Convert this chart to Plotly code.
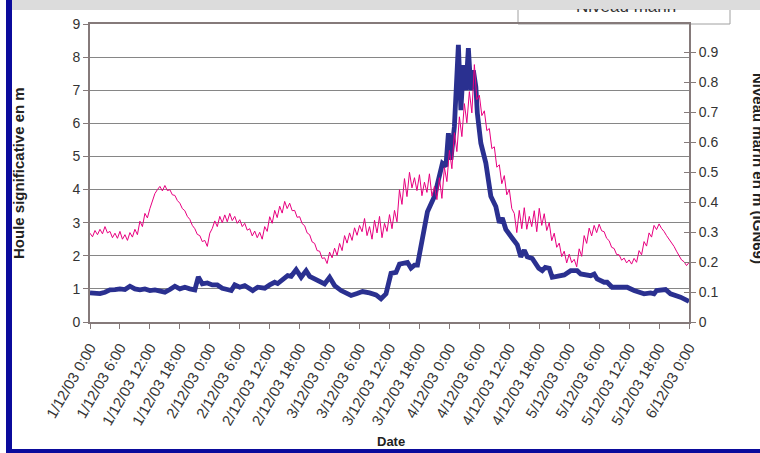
import pandas as pd
import plotly.graph_objects as go

# Significant wave height (m); sample times in hours after 1/12/2003 0:00
hs_hours = [0, 1, 2, 3, 4, 5, 6, 7, 8, 9, 10, 11, 12, 13, 14, 15, 16, 17, 18, 19, 20, 21,
            21.7, 22.5, 23.5, 24.5, 25.5, 26.5, 27.5, 28.3, 29, 30, 31, 32, 32.6, 33.6, 35,
            36, 37, 37.6, 38.6, 39.6, 40.3, 41.3, 42.3, 43.3, 44, 45, 46, 47, 48, 49, 50.3,
            51.3, 52.3, 53.5, 54.6, 56, 57.3, 58.3, 59.3, 60.3, 61.3, 62, 63.6, 64.3, 65,
            65.6, 66.3, 67.6, 69, 70.6, 71.3, 71.8, 72.3, 73, 73.8, 74.3, 74.8, 75.3, 75.8,
            76.3, 76.8, 77.3, 77.6, 78.3, 79.3, 80.3, 81.3, 82, 82.6, 83.3, 84.6, 85.6, 86.3,
            87, 87.6, 88.6, 89.9, 90.6, 91.2, 92, 92.6, 93.6, 95, 96.3, 97.6, 98.3, 100.3,
            101, 101.6, 103, 103.6, 104.6, 106, 107.6, 109, 111, 112.3, 113, 113.5, 114.3,
            115.3, 116.3, 118.3, 120]
hs_values = [0.88, 0.88, 0.86, 0.90, 0.97, 0.98, 1.00, 0.98, 1.08, 1.00, 0.97, 1.00, 0.95,
             0.97, 0.93, 0.90, 0.98, 1.08, 1.00, 1.05, 1.00, 0.97,
             1.36, 1.15, 1.18, 1.12, 1.12, 1.02, 0.98, 0.95, 1.12, 1.05, 1.10, 1.00, 0.95,
             1.05, 1.02, 1.12, 1.20, 1.16, 1.30, 1.40, 1.38, 1.58, 1.35, 1.55, 1.38, 1.30,
             1.20, 1.15, 1.35, 1.10, 0.95, 0.88, 0.80, 0.86, 0.92, 0.88, 0.82, 0.70, 0.85,
             1.47, 1.50, 1.75, 1.80, 1.63, 1.72, 1.72, 2.30, 3.33, 3.79, 4.79, 4.70, 5.70,
             4.90, 5.90, 8.37, 6.40, 7.76, 7.00, 8.27, 7.00, 7.60, 7.10, 6.30, 5.40, 4.80,
             3.80, 3.49, 3.00, 3.14, 2.80, 2.53, 2.33, 1.97, 2.17, 1.97, 1.92, 1.62, 1.55,
             1.65, 1.62, 1.35, 1.37, 1.42, 1.55, 1.55, 1.45, 1.40, 1.45, 1.30, 1.20, 1.20,
             1.05, 1.05, 1.05, 0.95, 0.85, 0.88, 0.85, 0.95, 0.98, 0.98, 0.85, 0.75, 0.62]

# Sea level (m IGN69), one reading every 30 minutes from 1/12/2003 0:00
sea_level = [
    0.296, 0.284, 0.305, 0.291, 0.309, 0.294, 0.318, 0.297, 0.302, 0.281, 0.296, 0.279,
    0.302, 0.276, 0.291, 0.272, 0.298, 0.283, 0.309, 0.291, 0.336, 0.318, 0.362, 0.347,
    0.378, 0.402, 0.428, 0.441, 0.452, 0.437, 0.455, 0.438, 0.441, 0.424, 0.422, 0.405,
    0.396, 0.378, 0.371, 0.352, 0.342, 0.322, 0.311, 0.292, 0.288, 0.268, 0.272, 0.252,
    0.296, 0.312, 0.337, 0.318, 0.352, 0.331, 0.357, 0.334, 0.362, 0.338, 0.352, 0.329,
    0.341, 0.318, 0.329, 0.306, 0.311, 0.287, 0.303, 0.281, 0.299, 0.276, 0.318, 0.302,
    0.351, 0.329, 0.372, 0.348, 0.386, 0.363, 0.402, 0.378, 0.396, 0.371, 0.372, 0.349,
    0.351, 0.328, 0.321, 0.297, 0.291, 0.267, 0.262, 0.238, 0.236, 0.212, 0.214, 0.195,
    0.233, 0.214, 0.246, 0.222, 0.262, 0.238, 0.288, 0.263, 0.297, 0.272, 0.314, 0.289,
    0.322, 0.301, 0.345, 0.288, 0.318, 0.276, 0.339, 0.297, 0.352, 0.281, 0.329, 0.302,
    0.358, 0.311, 0.372, 0.334, 0.441, 0.392, 0.478, 0.418, 0.499, 0.447, 0.481, 0.438,
    0.491, 0.421, 0.466, 0.432, 0.494, 0.419, 0.452, 0.408, 0.481, 0.412, 0.515, 0.468,
    0.572, 0.511, 0.631, 0.568, 0.684, 0.618, 0.728, 0.664, 0.768, 0.697, 0.858, 0.741,
    0.756, 0.688, 0.704, 0.638, 0.645, 0.578, 0.584, 0.516, 0.524, 0.461, 0.488, 0.424,
    0.442, 0.378, 0.362, 0.298, 0.372, 0.311, 0.381, 0.309, 0.352, 0.318, 0.371, 0.301,
    0.379, 0.322, 0.361, 0.305, 0.331, 0.271, 0.296, 0.249, 0.263, 0.218, 0.236, 0.197,
    0.226, 0.198, 0.209, 0.184, 0.244, 0.219, 0.288, 0.262, 0.313, 0.287, 0.322, 0.298,
    0.326, 0.304, 0.301, 0.279, 0.271, 0.249, 0.245, 0.225, 0.224, 0.206, 0.213, 0.197,
    0.207, 0.193, 0.212, 0.199, 0.238, 0.224, 0.268, 0.253, 0.297, 0.283, 0.322, 0.308,
    0.327, 0.312, 0.302, 0.288, 0.277, 0.262, 0.252, 0.236, 0.222, 0.207, 0.201, 0.188,
    0.198,
]

left_title = "Houle significative en m"
right_title = "Niveau marin en m (IGN69)"
x_title = "Date"
legend_label = "Niveau marin"

start = pd.Timestamp("2003-12-01 00:00")
end = pd.Timestamp("2003-12-06 00:00")
hs_time = start + pd.to_timedelta(hs_hours, unit="h")
sl_time = pd.date_range(start, periods=len(sea_level), freq="30min")

W, H = 760, 453
ML, MR, MT, MB = 90, 71, 24, 131
PW, PH = W - ML - MR, H - MT - MB


def px_x(x):
    return (x - ML) / PW


def px_y(y):
    return (H - MB - y) / PH


FONT = "Liberation Sans, Arial, sans-serif"
AXIS = "#857a7a"
GRID = "#868686"
YTICKFONT = dict(family=FONT, size=14, color="#333333")
XTICKFONT = dict(family=FONT, size=15, color="#333333")
VTITLEFONT = dict(family=FONT, size=15, color="#222222")
XTITLEFONT = dict(family=FONT, size=13, color="#222222")

fig = go.Figure()

fig.add_trace(go.Scatter(
    x=sl_time, y=sea_level, yaxis="y2", mode="lines",
    line=dict(color="#e8007f", width=1), name=legend_label, hoverinfo="skip",
))
fig.add_trace(go.Scatter(
    x=hs_time, y=hs_values, mode="lines",
    line=dict(color="#2a3090", width=4.8), name="Houle", hoverinfo="skip",
))
# carrier for the inner tick marks of the right axis
fig.add_trace(go.Scatter(x=[], y=[], yaxis="y3", showlegend=False, hoverinfo="skip"))

fig.update_layout(
    width=W, height=H,
    margin=dict(l=ML, r=MR, t=MT, b=MB, autoexpand=False),
    paper_bgcolor="white", plot_bgcolor="white",
    showlegend=False,
    xaxis=dict(
        type="date", range=[start, end], tick0=start, dtick=6 * 3600 * 1000,
        tickformat="%-d/%m/%y %-H:%M", tickangle=-60, tickfont=XTICKFONT,
        ticks="outside", ticklen=5, tickcolor=AXIS, tickwidth=1, ticklabelstandoff=4,
        showline=True, linecolor=AXIS, linewidth=2, mirror=True,
        showgrid=False, zeroline=False, automargin=False,
    ),
    yaxis=dict(
        range=[0, 9], dtick=1, tickfont=YTICKFONT,
        ticks="outside", ticklen=5, tickcolor=AXIS,
        showline=True, linecolor=AXIS, linewidth=2,
        showgrid=True, gridcolor=GRID, gridwidth=1.2, zeroline=False, automargin=False,
    ),
    yaxis2=dict(
        overlaying="y", side="right", range=[0, PH / 300], dtick=0.1, tickfont=YTICKFONT,
        ticks="outside", ticklen=5, tickcolor=AXIS,
        showline=True, linecolor=AXIS, linewidth=2,
        showgrid=False, zeroline=False, automargin=False,
    ),
    yaxis3=dict(
        overlaying="y", side="right", range=[0, PH / 300], dtick=0.1,
        ticks="inside", ticklen=5, tickcolor=AXIS, showticklabels=False,
        showline=False, showgrid=False, zeroline=False, automargin=False,
    ),
)

shapes = [
    # legend frame
    dict(type="rect", xref="paper", yref="paper",
         x0=px_x(518), x1=px_x(730), y0=px_y(24), y1=px_y(-5),
         line=dict(color="#a0a0a0", width=1), fillcolor="white", layer="below"),
    # top band
    dict(type="rect", xref="paper", yref="paper",
         x0=px_x(12), x1=px_x(W + 5), y0=px_y(10), y1=px_y(-5),
         line=dict(width=0), fillcolor="#dcdcdc", layer="above"),
    # left and bottom frame bars
    dict(type="rect", xref="paper", yref="paper",
         x0=px_x(6), x1=px_x(12), y0=px_y(H + 5), y1=px_y(-5),
         line=dict(width=0), fillcolor="#0b0b9c", layer="above"),
    dict(type="rect", xref="paper", yref="paper",
         x0=px_x(6), x1=px_x(W + 5), y0=px_y(H + 5), y1=px_y(449),
         line=dict(width=0), fillcolor="#0b0b9c", layer="above"),
]
fig.update_layout(shapes=shapes)


def bold(s):
    return "<b>" + s + "</b>"


# legend label: only its lower part shows below the top band (clipped text box)
fig.add_annotation(text=legend_label, xref="paper", yref="paper",
                   x=px_x(626), y=px_y(17), xanchor="center", yanchor="bottom",
                   height=7, valign="bottom", borderpad=0, showarrow=False,
                   font=dict(family=FONT, size=17, color="#333333"))

fig.add_annotation(text=bold(left_title), xref="paper", yref="paper",
                   x=px_x(18), y=px_y(173), textangle=-90, showarrow=False,
                   font=VTITLEFONT, xanchor="center", yanchor="middle")
fig.add_annotation(text=bold(right_title), xref="paper", yref="paper",
                   x=px_x(759), y=px_y(168), textangle=90, showarrow=False,
                   font=VTITLEFONT, xanchor="center", yanchor="middle")
fig.add_annotation(text=bold(x_title), xref="paper", yref="paper",
                   x=px_x(391), y=px_y(441), showarrow=False,
                   font=XTITLEFONT, xanchor="center", yanchor="middle")

fig.write_html("out.html")
